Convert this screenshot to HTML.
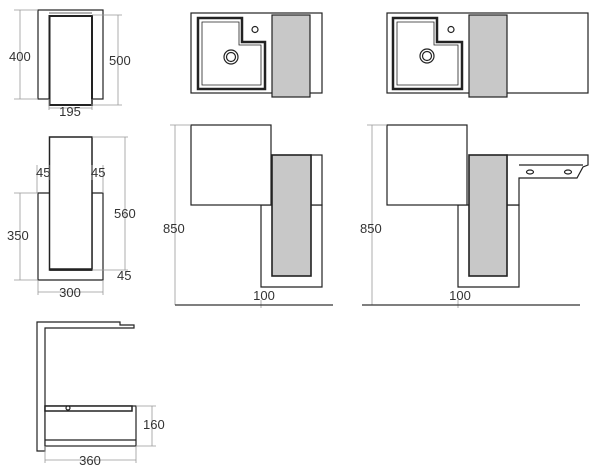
<!DOCTYPE html>
<html><head><style>body{margin:0;background:#fff}svg{display:block}text{font-family:"Liberation Sans",sans-serif;font-size:13px;fill:#333}</style></head><body>
<svg width="600" height="476" viewBox="0 0 600 476" xmlns="http://www.w3.org/2000/svg">
<g fill="#fff" stroke="#222" stroke-width="1.2">
<!-- top-left -->
<rect x="38" y="10" width="65" height="89"/>
<rect x="49.5" y="16" width="42.5" height="89" stroke-width="2"/>
<line x1="49" y1="13" x2="92" y2="13" stroke="#888"/>
<!-- U -->
<path d="M38 193 H50 V270 H92 V193 H103 V280 H38 Z"/>
<rect x="49.5" y="137" width="42.5" height="133" stroke-width="1.5"/>
<line x1="50" y1="269.5" x2="92" y2="269.5" stroke-width="2.5"/>
<!-- sink 1 -->
<rect x="191" y="13" width="131" height="80"/>
<path d="M198 18 H242 V42 H265 V89 H198 Z" stroke-width="2.5"/>
<path d="M202 22 H239 V45 H261 V85 H202 Z" stroke-width="0.8"/>
<circle cx="231" cy="57" r="7"/><circle cx="231" cy="57" r="4.5"/>
<circle cx="255" cy="29.5" r="3"/>
<rect x="272" y="15" width="38" height="82" fill="#c8c8c8"/>
<!-- side 1 -->
<path d="M261 205 H322 V287 H261 Z"/>
<rect x="191" y="125" width="80" height="80"/>
<rect x="311" y="155" width="11" height="50"/>
<rect x="272" y="155" width="39" height="121" fill="#c8c8c8" stroke-width="1.6"/>
<!-- sink 2 -->
<rect x="387" y="13" width="201" height="80"/>
<path d="M393 18 H437 V42 H462 V89 H393 Z" stroke-width="2.5"/>
<path d="M397 22 H434 V45 H458 V85 H397 Z" stroke-width="0.8"/>
<circle cx="427" cy="56" r="7"/><circle cx="427" cy="56" r="4.5"/>
<circle cx="451" cy="29.5" r="3"/>
<rect x="469" y="15" width="38" height="82" fill="#c8c8c8"/>
<!-- side 2 -->
<path d="M458 205 H519 V287 H458 Z"/>
<rect x="387" y="125" width="80" height="80"/>
<path d="M507 155 H588 V165 L583 167 L577 178 H519 V205 H507 Z"/>
<path d="M519 165 H583"/>
<ellipse cx="530" cy="172" rx="3.5" ry="2"/><ellipse cx="568" cy="172" rx="3.5" ry="2"/>
<rect x="469" y="155" width="38" height="121" fill="#c8c8c8" stroke-width="1.6"/>
<!-- bottom -->
<path d="M37 322 H120 V325 H134 V328 H45 V451 H37 Z"/>
<rect x="45" y="406" width="91" height="40"/>
<rect x="45" y="406" width="87" height="5" stroke-width="1.5"/>
<line x1="45" y1="440" x2="136" y2="440"/>
<circle cx="68" cy="408" r="2"/>
</g>
<g stroke="#999" stroke-width="0.8" fill="none">
<path d="M20 10 V99 M14 10 H38 M14 99 H38"/>
<path d="M118 15 V105 M92 15 H122 M92 105 H122"/>
<path d="M49 99 V110 M92 99 V110 M49 108 H92"/>
<path d="M125 137 V270 M92 137 H128 M92 270 H128"/>
<path d="M20 193 V280 M14 193 H38 M14 280 H38"/>
<path d="M38 280 V295 M103 280 V295 M38 292 H103"/>
<path d="M37 165 V193 M50 165 V180 M92 165 V180 M103 165 V193"/>
<path d="M175 125 V305 M170 125 H191"/>
<path d="M372 125 V305 M367 125 H387"/>
<path d="M152 406 V446 M136 406 H156 M136 446 H156"/>
<path d="M45 446 V463 M136 446 V463 M45 460 H136"/>
<path d="M261 300 V308 M458 300 V308"/>
</g>
<g stroke="#333" stroke-width="1.2"><line x1="175" y1="305" x2="333" y2="305"/><line x1="362" y1="305" x2="580" y2="305"/></g>
<g>
<text x="9" y="61">400</text><text x="109" y="65">500</text>
<text x="70" y="116" text-anchor="middle">195</text>
<text x="36" y="177">45</text><text x="91" y="177">45</text>
<text x="114" y="218">560</text><text x="7" y="240">350</text>
<text x="117" y="280">45</text>
<text x="70" y="297" text-anchor="middle">300</text>
<text x="163" y="233">850</text><text x="360" y="233">850</text>
<text x="264" y="300" text-anchor="middle">100</text><text x="460" y="300" text-anchor="middle">100</text>
<text x="143" y="429">160</text>
<text x="90" y="465" text-anchor="middle">360</text>
</g>
</svg>
</body></html>
